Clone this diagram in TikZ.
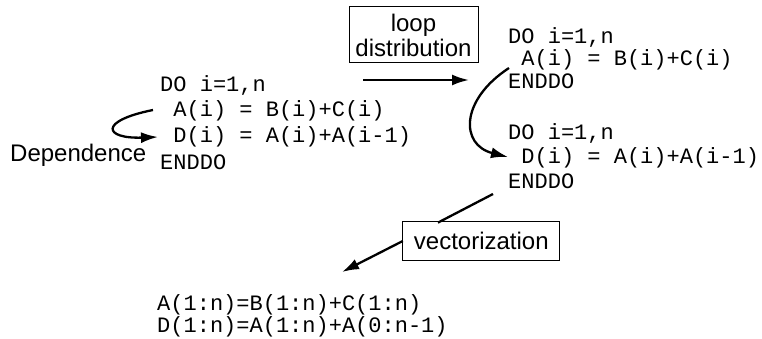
\documentclass[tikz,border=0pt]{standalone}
\usepackage{fontspec}
\setmainfont{Liberation Sans}
\newfontfamily\codefont{Liberation Mono}
\usetikzlibrary{arrows.meta}
\begin{document}
\begin{tikzpicture}[x=1pt,y=-1pt,
  code/.style={anchor=base west,inner sep=0pt,font=\codefont\fontsize{22}{25}\selectfont},
  label/.style={inner sep=0pt,font=\fontsize{24}{25}\selectfont},
  tbox/.style={draw,line width=1pt,inner sep=0pt,align=center,font=\fontsize{24}{25}\selectfont},
  conn/.style={line width=2.3pt,-{Latex[length=17pt,width=11pt]}},
  plain/.style={line width=2.3pt}]
\useasboundingbox (0,0) rectangle (762,339);
% left loop
\node[code] (l1) at (160,92) {DO i=1,n};
\node[code] (l2) at (173.2,117) {A(i) = B(i)+C(i)};
\node[code] (l3) at (173.2,143) {D(i) = A(i)+A(i-1)};
\node[code] (l4) at (160,169) {ENDDO};
\node[label,anchor=base west] (dep) at (10,162) {Dependence};
% right loops
\node[code] (r1) at (508,44) {DO i=1,n};
\node[code] (r2) at (521.2,66) {A(i) = B(i)+C(i)};
\node[code] (r3) at (508,89) {ENDDO};
\node[code] (r4) at (508,140) {DO i=1,n};
\node[code] (r5) at (521.2,164) {D(i) = A(i)+A(i-1)};
\node[code] (r6) at (508,188) {ENDDO};
% vectorized
\node[code] (v1) at (157,310) {A(1:n)=B(1:n)+C(1:n)};
\node[code] (v2) at (157,332) {D(1:n)=A(1:n)+A(0:n-1)};
% boxes
\node[tbox,minimum width=129,minimum height=56] (loop) at (413.5,35) {loop\\distribution};
\node[tbox,minimum width=157,minimum height=38.7] (vec) at (481.3,241.3) {vectorization};
% connector ends
\coordinate (d1s) at (153,110);
\coordinate (d1e) at (158,137);
\coordinate (h1s) at (363,80);
\coordinate (h1e) at (469,80);
\coordinate (c1s) at (509,68);
\coordinate (c1e) at (508,157);
\coordinate (e1s) at (493,194);
\coordinate (e1e) at (438,222.6);
\coordinate (a1s) at (402.8,241);
\coordinate (a1e) at (342,272);
% connectors
\draw[conn] (d1s) .. controls (98,121) and (104,139) .. (d1e);
\draw[conn] (h1s) -- (h1e);
\draw[conn] (c1s) .. controls (460,100) and (460,145) .. (c1e);
\draw[plain] (e1s) -- (e1e);
\draw[conn] (a1s) -- (a1e);
\end{tikzpicture}
\end{document}
